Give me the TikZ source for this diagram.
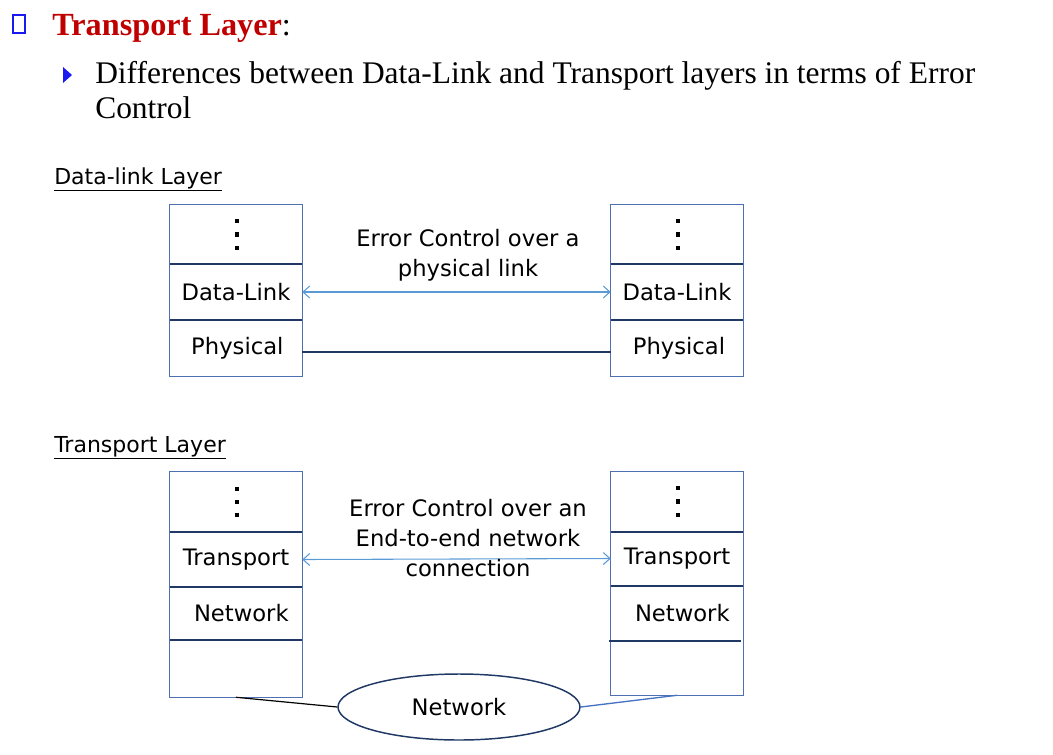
\documentclass[tikz,border=0pt]{standalone}
\usepackage{fontspec}
\setmainfont{Liberation Serif}
\newfontfamily\sansf{DejaVu Sans}
\usetikzlibrary{arrows.meta,shapes.geometric,fit}
\definecolor{frameblue}{HTML}{4E70B0}
\definecolor{navy}{HTML}{1F3864}
\definecolor{arrowblue}{HTML}{5B9BD5}
\definecolor{titlered}{HTML}{C00000}
\definecolor{linkblue}{HTML}{4472C4}
\definecolor{bulletblue}{HTML}{1A1AF0}
\newcommand\stackdots[1]{\foreach \dy in {-10,0,10} {\fill[black] ([yshift=\dy pt, xshift=0.8pt]#1.center) ++(-1.6pt,-1.6pt) rectangle ++(3.2pt,3.2pt);}}
\begin{document}
\begin{tikzpicture}[x=0.75pt,y=-0.75pt,
  cell/.style={minimum width=99pt, inner sep=0pt, font=\sansf\fontsize{17}{20}\selectfont, text=black},
  frame/.style={draw=frameblue, line width=1.1pt, inner sep=0pt},
  sep/.style={draw=navy, line width=1.5pt},
  link/.style={draw=arrowblue, line width=0.8pt, {Straight Barb[length=5pt,width=9pt]}-{Straight Barb[length=5pt,width=9pt]}},
  lbl/.style={font=\sansf\fontsize{17}{22.5}\selectfont, align=center, inner sep=0pt},
  head/.style={font=\sansf\fontsize{16.5}{20}\selectfont, anchor=base west, inner sep=0pt}
]
\useasboundingbox (0,0) rectangle (1053,754);

% title and bullets
\node[draw=bulletblue, line width=1.3pt, minimum width=9pt, minimum height=14pt, inner sep=0pt] (sq) at (19,24) {};
\node[anchor=base west, inner sep=0pt, font=\fontsize{24.2}{28}\selectfont] (title) at (52,35) {\textcolor{titlered}{\bfseries Transport Layer}:};
\fill[bulletblue] (63,67) -- (72,75) -- (63,83) -- cycle;
\node[anchor=base west, inner sep=0pt, font=\fontsize{23.6}{28}\selectfont] (sub1) at (95,83) {Differences between Data-Link and Transport layers in terms of Error};
\node[anchor=base west, inner sep=0pt, font=\fontsize{23.6}{28}\selectfont] (sub2) at (95,118) {Control};

% Data-link layer
\node[head] (h1) at (54,184) {\underline{Data-link Layer}};

\node[cell, minimum height=44.25pt] (tl0) at (236,234.5) {};
\node[cell, minimum height=42pt] (tl1) at (236,292) {Data-Link};
\node[cell, minimum height=42pt] (tl2) at (236,348) {\hspace{2pt}Physical};
\node[frame, fit=(tl0)(tl2)] (TL) {};
\stackdots{tl0}
\draw[sep] (tl0.south west) -- (tl0.south east);
\draw[sep] (tl1.south west) -- (tl1.south east);

\node[cell, minimum height=44.25pt] (tr0) at (677,234.5) {};
\node[cell, minimum height=42pt] (tr1) at (677,292) {Data-Link};
\node[cell, minimum height=42pt] (tr2) at (677,348) {\hspace{3pt}Physical};
\node[frame, fit=(tr0)(tr2)] (TR) {};
\stackdots{tr0}
\draw[sep] (tr0.south west) -- (tr0.south east);
\draw[sep] (tr1.south west) -- (tr1.south east);

\draw[link] (tl1.east) -- (tr1.west);
\draw[sep] ([yshift=-3pt]tl2.east) -- ([yshift=-3pt]tr2.west);
\node[lbl] (lab1) at (468,255) {Error Control over a\\physical link};

% Transport layer
\node[head] (h2) at (54,452) {\underline{Transport Layer}};

\node[cell, minimum height=45pt] (bl0) at (236,502) {};
\node[cell, minimum height=41.25pt] (bl1) at (236,559.5) {Transport};
\node[cell, minimum height=39.75pt] (bl2) at (236,613.5) {\hspace{8pt}Network};
\node[cell, minimum height=42.75pt] (bl3) at (236,668.5) {};
\node[frame, fit=(bl0)(bl3)] (BL) {};
\stackdots{bl0}
\draw[sep] (bl0.south west) -- (bl0.south east);
\draw[sep] (bl1.south west) -- (bl1.south east);
\draw[sep] (bl2.south west) -- (bl2.south east);

\node[cell, minimum height=45pt] (br0) at (677,501.5) {};
\node[cell, minimum height=41.25pt] (br1) at (677,558.5) {Transport};
\node[cell, minimum height=41.25pt] (br2) at (677,613.5) {\hspace{8pt}Network};
\node[cell, minimum height=40.5pt] (br3) at (677,668) {};
\node[frame, fit=(br0)(br3)] (BR) {};
\stackdots{br0}
\draw[sep] (br0.south west) -- (br0.south east);
\draw[sep] (br1.south west) -- (br1.south east);
\draw[sep] ([xshift=-1.5pt]br2.south west) -- ([xshift=-2pt]br2.south east);

\draw[link] (bl1.east) -- (br1.west);
\node[lbl] (lab2) at (468,538) {Error Control over an\\End-to-end network\\connection};

\node[ellipse, draw=navy, line width=1.1pt, minimum width=181.5pt, minimum height=49.5pt, inner sep=0pt, font=\sansf\fontsize{17}{20}\selectfont] (net) at (459,707) {Network};
\draw[black, line width=0.9pt] (bl3.south) -- (net.west);
\draw[linkblue, line width=1pt] (net.east) -- (br3.south);
\end{tikzpicture}
\end{document}
